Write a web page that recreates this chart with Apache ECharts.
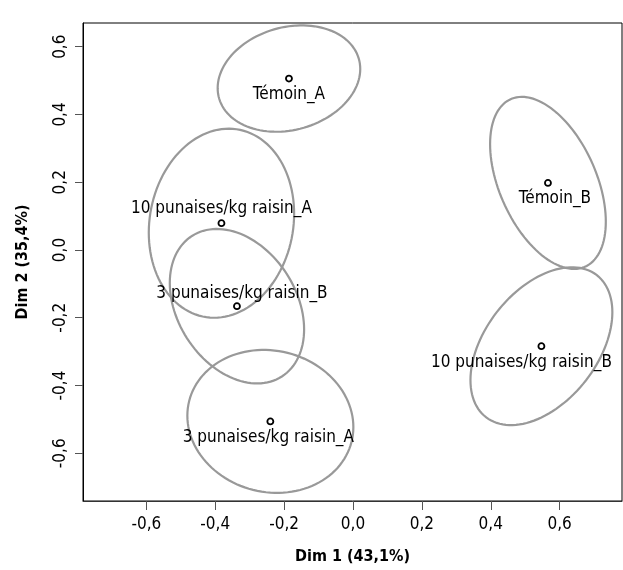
<!DOCTYPE html>
<html>
<head>
<meta charset="utf-8">
<script src="https://cdn.jsdelivr.net/npm/echarts@6/dist/echarts.min.js"></script>
<style>
  html, body { margin: 0; padding: 0; background: #fff; }
  #chart { width: 623px; height: 570px; }
</style>
</head>
<body>
<div id="chart"></div>
<script>
// group means on Dim 1 / Dim 2
const names = ['Témoin_A', 'Témoin_B', '10 punaises/kg raisin_A', '3 punaises/kg raisin_B', '10 punaises/kg raisin_B', '3 punaises/kg raisin_A'];
const dim1 = [-0.186, 0.566, -0.382, -0.337, 0.547, -0.240];
const dim2 = [0.506, 0.198, 0.079, -0.166, -0.284, -0.506];

// confidence ellipses: half extent along each dim + correlation
const ellHalfX = [0.207, 0.168, 0.211, 0.195, 0.206, 0.241];
const ellHalfY = [0.157, 0.254, 0.279, 0.228, 0.233, 0.211];
const ellRho = [0.18, -0.45, 0.10, -0.30, 0.43, -0.08];

const xTicks = [-0.6, -0.4, -0.2, 0.0, 0.2, 0.4, 0.6];
const yTicks = [-0.6, -0.4, -0.2, 0.0, 0.2, 0.4, 0.6];

// where each label sits relative to its point (px)
const labelShift = [[0, 16], [7, 16], [0, -15], [5, -13], [-20, 16], [-2, 16]];

const FONT = '"DejaVu Sans Condensed", "DejaVu Sans", sans-serif';
const fmt = v => v.toFixed(1).replace('.', ',');

const chart = echarts.init(document.getElementById('chart'));

const ellipseData = names.map((n, i) => [dim1[i], dim2[i], ellHalfX[i], ellHalfY[i], ellRho[i]]);
const pointData = names.map((n, i) => ({
  name: n,
  value: [dim1[i], dim2[i]],
  label: { offset: labelShift[i] }
}));

const option = {
  animation: false,
  grid: {
    left: 83, right: 1, top: 23, bottom: 67,
    show: true, borderColor: '#000', borderWidth: 1
  },
  xAxis: {
    type: 'value',
    min: -0.784, max: 0.781,
    name: 'Dim 1 (43,1%)',
    nameLocation: 'middle',
    nameGap: 48,
    nameTextStyle: { fontFamily: FONT, fontSize: 16, fontWeight: 'bold', color: '#000' },
    axisLine: { show: true, onZero: false, lineStyle: { color: '#333', width: 1 } },
    axisTick: { show: true, length: 9, customValues: xTicks, lineStyle: { color: '#555' } },
    axisLabel: { customValues: xTicks, formatter: fmt, margin: 15, fontFamily: FONT, fontSize: 17, color: '#000' },
    splitLine: { show: false }
  },
  yAxis: {
    type: 'value',
    min: -0.741, max: 0.670,
    name: 'Dim 2 (35,4%)',
    nameLocation: 'middle',
    nameGap: 52,
    nameTextStyle: { fontFamily: FONT, fontSize: 16, fontWeight: 'bold', color: '#000' },
    axisLine: { show: true, onZero: false, lineStyle: { color: '#000', width: 1 } },
    axisTick: { show: true, length: 8, customValues: yTicks, lineStyle: { color: '#555' } },
    axisLabel: { customValues: yTicks, formatter: fmt, rotate: 90, margin: 14, fontFamily: FONT, fontSize: 17, color: '#000' },
    splitLine: { show: false }
  },
  series: [
    {
      type: 'custom',
      data: ellipseData,
      encode: { x: 0, y: 1 },
      renderItem: function (params, api) {
        const cx = api.value(0), cy = api.value(1);
        const hx = api.value(2), hy = api.value(3), rho = api.value(4);
        const s = Math.sqrt(1 - rho * rho);
        const pts = [];
        for (let k = 0; k <= 120; k++) {
          const t = k / 120 * Math.PI * 2;
          pts.push(api.coord([cx + hx * Math.cos(t), cy + hy * (rho * Math.cos(t) + s * Math.sin(t))]));
        }
        return {
          type: 'polygon',
          shape: { points: pts },
          style: { fill: null, stroke: '#999', lineWidth: 2.2 }
        };
      },
      z: 1
    },
    {
      type: 'scatter',
      data: pointData,
      symbol: 'circle',
      symbolSize: 6,
      itemStyle: { color: '#fff', borderColor: '#000', borderWidth: 1.8, opacity: 1 },
      label: {
        show: true,
        position: 'inside',
        formatter: '{b}',
        fontFamily: FONT,
        fontSize: 17,
        color: '#000'
      },
      emphasis: { disabled: true },
      z: 3
    }
  ]
};

chart.setOption(option);
</script>
</body>
</html>
